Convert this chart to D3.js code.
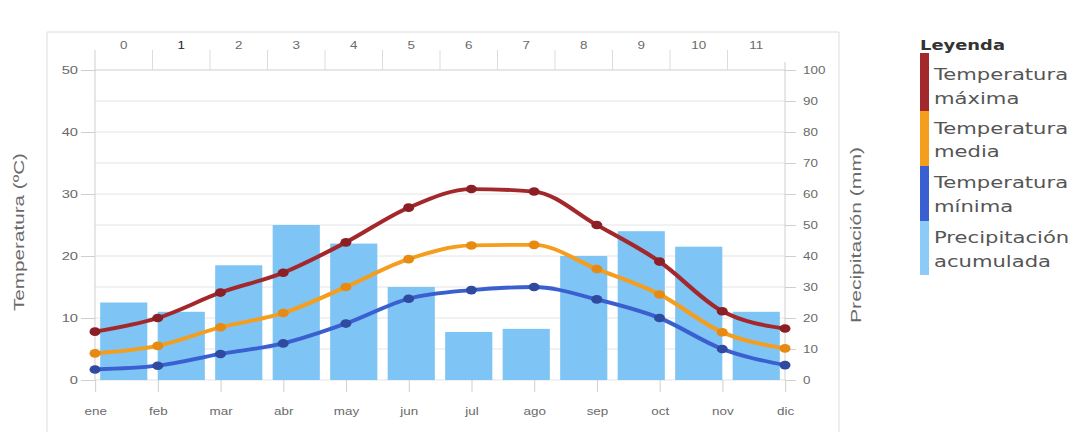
<!DOCTYPE html>
<html>
<head>
<meta charset="utf-8">
<script src="https://cdn.jsdelivr.net/npm/d3@7"></script>
<style>
  body { margin: 0; background: #fff; }
  text { font-family: "Liberation Sans", Arial, sans-serif; }
</style>
</head>
<body>
<svg id="chart" width="1072" height="432"></svg>
<script>
// data
const months = ["ene", "feb", "mar", "abr", "may", "jun", "jul", "ago", "sep", "oct", "nov", "dic"];
const tempMax = [7.8, 10.0, 14.1, 17.3, 22.2, 27.8, 30.8, 30.4, 25.0, 19.1, 11.1, 8.3];
const tempMed = [4.3, 5.5, 8.5, 10.8, 15.0, 19.5, 21.7, 21.8, 17.9, 13.8, 7.7, 5.1];
const tempMin = [1.7, 2.3, 4.2, 5.9, 9.1, 13.1, 14.5, 15.0, 13.0, 10.0, 5.0, 2.4];
const precip = [25, 22, 37, 50, 44, 30, 15.5, 16.5, 40, 48, 43, 22];
const tempTicks = [0, 10, 20, 30, 40, 50];
const precTicks = [0, 10, 20, 30, 40, 50, 60, 70, 80, 90, 100];
const gridTicks = [0, 5, 10, 15, 20, 25, 30, 35, 40, 45, 50];
const legendTitle = "Leyenda";
const legendLabels = [["Temperatura", "máxima"], ["Temperatura", "media"], ["Temperatura", "mínima"], ["Precipitación", "acumulada"]];

// the picture is stretched sideways, so draw in a squeezed space and scale it out
const SX = 1.28;
const u = v => v / SX;

const svg = d3.select("#chart");
const g = svg.append("g").attr("transform", `scale(${SX},1)`);

const xPoint = d3.scalePoint().domain(months).range([u(95), u(785)]);
const xBand = d3.scaleBand().domain(months).range([u(95), u(785)])
    .paddingInner(0.18).paddingOuter(0.09);
const yT = d3.scaleLinear().domain([0, 50]).range([380, 70]);
const yP = d3.scaleLinear().domain([0, 100]).range([380, 70]);

// outer frame
g.append("rect")
    .attr("x", u(47)).attr("y", 32)
    .attr("width", u(839 - 47)).attr("height", 430)
    .attr("fill", "none").attr("stroke", "#dcdcdc")
    .attr("vector-effect", "non-scaling-stroke");

// horizontal grid
g.selectAll(".grid").data(gridTicks).enter().append("line")
    .attr("x1", u(95)).attr("x2", u(785))
    .attr("y1", d => yT(d)).attr("y2", d => yT(d))
    .attr("stroke", d => d === 50 ? "#cfcfcf" : "#e4e4e4")
    .attr("vector-effect", "non-scaling-stroke");

// top index axis: labels on band centers, ticks on band edges
const step = xBand.step();
g.selectAll(".topTick").data(months.slice(1)).enter().append("line")
    .attr("x1", d => xBand(d) + xBand.bandwidth() / 2 - step / 2)
    .attr("x2", d => xBand(d) + xBand.bandwidth() / 2 - step / 2)
    .attr("y1", 50).attr("y2", 70)
    .attr("stroke", "#dcdcdc")
    .attr("vector-effect", "non-scaling-stroke");

g.selectAll(".topLabel").data(months).enter().append("text")
    .attr("x", d => xBand(d) + xBand.bandwidth() / 2)
    .attr("y", 49)
    .attr("text-anchor", "middle")
    .style("font-size", "10.5px")
    .style("fill", (d, i) => i === 1 ? "#222" : "#6a6a6a")
    .text((d, i) => i);

// precipitation bars
g.selectAll(".bar").data(precip).enter().append("rect")
    .attr("x", (d, i) => xBand(months[i]))
    .attr("width", xBand.bandwidth())
    .attr("y", d => yP(d))
    .attr("height", d => yP(0) - yP(d))
    .attr("fill", "#7ec4f5");

// left / right axis lines
g.append("line").attr("x1", u(95)).attr("x2", u(95)).attr("y1", 50).attr("y2", 380)
    .attr("stroke", "#cfcfcf").attr("vector-effect", "non-scaling-stroke");
g.append("line").attr("x1", u(785)).attr("x2", u(785)).attr("y1", 62).attr("y2", 380)
    .attr("stroke", "#cfcfcf").attr("vector-effect", "non-scaling-stroke");

const leftAxis = g.append("g")
    .attr("transform", `translate(${u(95)},0)`)
    .call(d3.axisLeft(yT).tickValues(tempTicks).tickSize(u(14)).tickPadding(u(3)));

const rightAxis = g.append("g")
    .attr("transform", `translate(${u(785)},0)`)
    .call(d3.axisRight(yP).tickValues(precTicks).tickSize(u(11)).tickPadding(u(7)));

const bottomAxis = g.append("g")
    .attr("transform", "translate(0,380)")
    .call(d3.axisBottom(xPoint).tickSize(12).tickPadding(20));

[leftAxis, rightAxis, bottomAxis].forEach(ax => {
    ax.select(".domain").remove();
    ax.selectAll("line").attr("stroke", "#cfcfcf").attr("vector-effect", "non-scaling-stroke");
    ax.selectAll("text").style("fill", "#6a6a6a").style("font-size", "10.5px")
        .style("font-family", "'Liberation Sans', Arial, sans-serif");
});
leftAxis.selectAll("text").style("font-size", "11.5px");
bottomAxis.selectAll("text").attr("dy", "0.3em");

// temperature lines
const series = [
    { values: tempMax, line: "#a3282c", dot: "#8a1f25" },
    { values: tempMed, line: "#f59d1c", dot: "#e68a12" },
    { values: tempMin, line: "#3a5fd0", dot: "#2f4a9e" }
];
const lineGen = d3.line()
    .x((d, i) => xPoint(months[i]))
    .y(d => yT(d))
    .curve(d3.curveMonotoneX);

series.forEach(s => {
    g.append("path")
        .datum(s.values)
        .attr("d", lineGen)
        .attr("fill", "none")
        .attr("stroke", s.line)
        .attr("stroke-width", 3.8)
        .attr("stroke-linejoin", "round");
    g.selectAll(null).data(s.values).enter().append("circle")
        .attr("cx", (d, i) => xPoint(months[i]))
        .attr("cy", d => yT(d))
        .attr("r", 4.3)
        .attr("fill", s.dot);
});

// axis titles
g.append("text")
    .attr("transform", `translate(${u(24)},232) rotate(-90)`)
    .attr("text-anchor", "middle")
    .attr("textLength", 158).attr("lengthAdjust", "spacingAndGlyphs")
    .style("font-size", "11px").style("fill", "#6a6a6a")
    .text("Temperatura (ºC)");

g.append("text")
    .attr("transform", `translate(${u(861)},235) rotate(-90)`)
    .attr("text-anchor", "middle")
    .attr("textLength", 176).attr("lengthAdjust", "spacingAndGlyphs")
    .style("font-size", "11px").style("fill", "#6a6a6a")
    .text("Precipitación (mm)");

// legend
const legendColors = ["#a3282c", "#f59d1c", "#3a5fd0", "#8ccbf7"];
const legendTops = [53, 111, 166, 221];
const legendBottoms = [111, 166, 221, 275];
const legendBase = [[80, 104], [134, 157], [188, 212], [243, 267]];

g.append("text")
    .attr("x", u(920)).attr("y", 50)
    .style("font-family", "'DejaVu Sans', sans-serif")
    .style("font-weight", "bold").style("font-size", "14px")
    .style("fill", "#333")
    .text(legendTitle);

legendLabels.forEach((lines, i) => {
    g.append("rect")
        .attr("x", u(920)).attr("y", legendTops[i])
        .attr("width", u(9)).attr("height", legendBottoms[i] - legendTops[i])
        .attr("fill", legendColors[i]);
    lines.forEach((t, j) => {
        g.append("text")
            .attr("x", u(934)).attr("y", legendBase[i][j])
            .style("font-family", "'DejaVu Sans', sans-serif")
            .style("font-size", "16.5px").style("fill", "#555")
            .text(t);
    });
});
</script>
</body>
</html>
